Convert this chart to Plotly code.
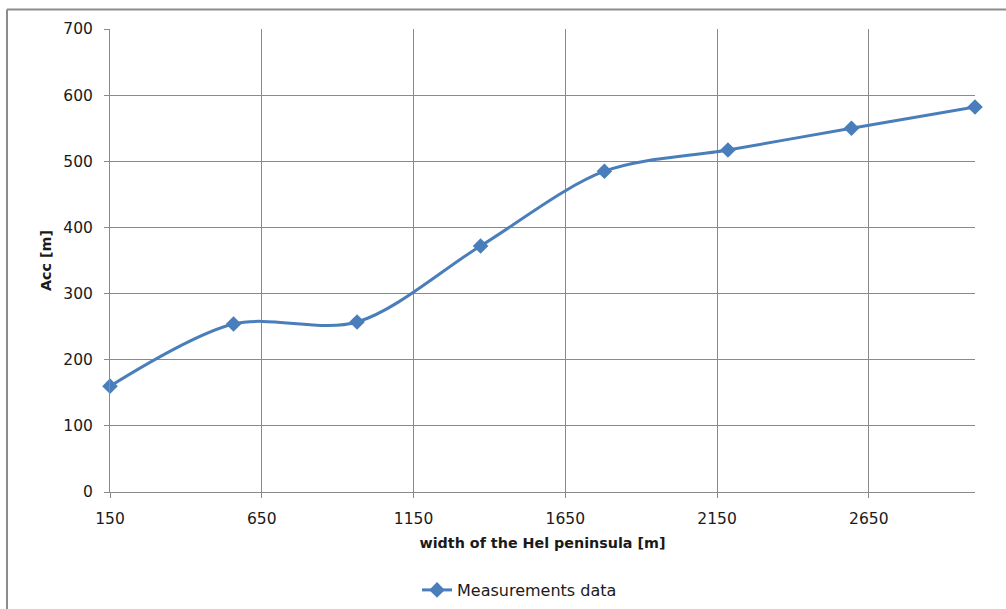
import plotly.graph_objects as go

# width of the Hel peninsula [m]
width_m = [150, 557, 964, 1371, 1779, 2186, 2593, 3000]
# Acc [m]
acc_m = [160, 254, 257, 372, 485, 517, 550, 582]

series_name = "Measurements data"
x_title = "width of the Hel peninsula [m]"
y_title = "Acc [m]"

W, H = 1006, 609
L, R, T, B = 110, 31, 29, 117
pw, ph = W - L - R, H - T - B


def px_x(p):
    return (p - L) / pw


def px_y(p):
    return (H - B - p) / ph


blue = "#4a7ebb"
grid = "#8a8a8a"
font = "'DejaVu Sans', sans-serif"

fig = go.Figure()
fig.add_trace(go.Scatter(
    x=width_m,
    y=acc_m,
    name=series_name,
    mode="lines+markers",
    line=dict(color=blue, width=3, shape="spline", smoothing=0.9),
    marker=dict(symbol="diamond", size=12, color=blue),
    cliponaxis=False,
))

fig.update_layout(
    width=W,
    height=H,
    margin=dict(l=L, r=R, t=T, b=B, pad=0, autoexpand=False),
    paper_bgcolor="white",
    plot_bgcolor="white",
    font=dict(family=font, size=15.5, color="#1a1a1a"),
    showlegend=True,
    legend=dict(
        orientation="h",
        xref="container", yref="container",
        x=417 / W, xanchor="left",
        y=1 - 590 / H, yanchor="middle",
        font=dict(size=16),
        bgcolor="rgba(0,0,0,0)",
    ),
    # outer chart-area border
    shapes=[
        dict(type="line", xref="paper", yref="paper",
             x0=px_x(7), x1=px_x(1020), y0=px_y(9.5), y1=px_y(9.5),
             line=dict(color="#8c8c8c", width=2)),
        dict(type="line", xref="paper", yref="paper",
             x0=px_x(7), x1=px_x(7), y0=px_y(9.5), y1=px_y(620),
             line=dict(color="#8c8c8c", width=2)),
    ],
)

fig.update_xaxes(
    range=[150, 3000],
    tick0=150, dtick=500,
    showgrid=True, gridcolor=grid, gridwidth=1,
    showline=True, linecolor=grid, linewidth=1,
    ticks="outside", ticklen=5, tickcolor=grid,
    zeroline=False, automargin=False,
    ticklabelstandoff=7,
    title=dict(text="<b>" + x_title + "</b>", standoff=11, font=dict(size=14.3)),
)
fig.update_yaxes(
    range=[0, 700],
    tick0=0, dtick=100,
    showgrid=True, gridcolor=grid, gridwidth=1,
    showline=True, linecolor=grid, linewidth=1,
    ticks="outside", ticklen=5, tickcolor=grid,
    zeroline=False, automargin=False,
    ticklabelstandoff=8,
    title=dict(text="<b>" + y_title + "</b>", standoff=8, font=dict(size=14.3)),
)

fig.write_html("out.html", config={"displayModeBar": False},
               post_script="document.body.style.margin='0';")
